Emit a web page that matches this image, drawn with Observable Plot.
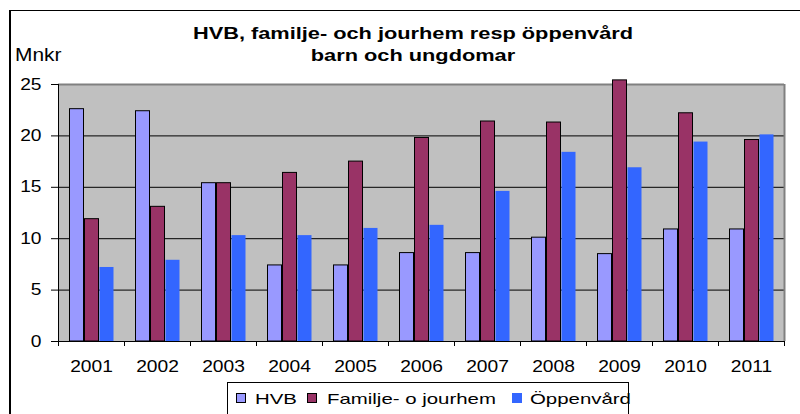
<!DOCTYPE html>
<html><head><meta charset="utf-8">
<script src="https://cdn.jsdelivr.net/npm/d3@7"></script>
<script src="https://cdn.jsdelivr.net/npm/@observablehq/plot@0.6"></script>
<style>
body{margin:0;background:#fff;font-family:"Liberation Sans",Arial,sans-serif;color:#000;}
#wrap{position:relative;width:800px;height:414px;overflow:hidden;background:#fff;}
#wrap svg{position:absolute;left:0;top:0;}
.border{position:absolute;left:9px;top:9.5px;width:830px;height:450px;border-left:2px solid #000;border-top:1.5px solid #000;}
.title{position:absolute;left:0;width:826px;text-align:center;font-weight:bold;font-size:16px;line-height:20px;white-space:nowrap;transform:scaleX(1.36);transform-origin:413px 0;}
.ylab{position:absolute;left:15px;top:44.5px;font-size:18px;line-height:20px;white-space:nowrap;transform:scaleX(1.16);transform-origin:0 0;}
.legend{position:absolute;left:227px;top:382px;width:402px;height:33px;box-sizing:border-box;border:1px solid #000;}
.sw{position:absolute;top:393px;width:10px;height:10px;box-sizing:border-box;}
.lt{position:absolute;top:390.6px;font-size:15px;line-height:15px;white-space:nowrap;transform:scaleX(1.36);transform-origin:0 0;}
</style></head>
<body>
<div id="wrap">
  <div class="border"></div>
  <div class="title" style="top:23.7px">HVB, familje- och jourhem resp öppenvård</div>
  <div class="title" style="top:46px">barn och ungdomar</div>
  <div class="ylab">Mnkr</div>
  <div class="legend"></div>
</div>
<script>
const years = ["2001","2002","2003","2004","2005","2006","2007","2008","2009","2010","2011"];
const seriesNames = ["HVB", "Familje- o jourhem", "Öppenvård"];
const hvb = [22.6, 22.4, 15.4, 7.4, 7.4, 8.6, 8.6, 10.1, 8.5, 10.9, 10.9];
const fam = [11.9, 13.1, 15.4, 16.4, 17.5, 19.8, 21.4, 21.3, 25.4, 22.2, 19.6];
const opp = [7.2, 7.9, 10.3, 10.3, 11.0, 11.3, 14.6, 18.4, 16.9, 19.4, 20.1];
const yTicks = [0, 5, 10, 15, 20, 25];

const colors = ["#9999FF", "#993366", "#3366FF"];
const outlined = [true, true, false];
const values = [hvb, fam, opp];
const rows = years.flatMap((year, i) => seriesNames.map((series, k) => ({year, series, k, value: values[k][i]})));
const xDomain = [-0.7, 3.7];

const chart = Plot.plot({
  width: 800, height: 414,
  marginLeft: 56, marginRight: 15, marginTop: 84, marginBottom: 73,
  style: {background: "transparent", fontSize: "16px", fontFamily: "'Liberation Sans', Arial, sans-serif", color: "#000", overflow: "visible"},
  fx: {domain: years, padding: 0},
  x: {domain: xDomain},
  y: {domain: [0, 25]},
  color: {domain: seriesNames, range: colors},
  marks: [
    Plot.frame({fill: "#c0c0c0", stroke: "none", shapeRendering: "crispEdges"}),
    Plot.gridY(yTicks.slice(1, -1), {stroke: "#000", strokeOpacity: 1, strokeWidth: 1}),
    Plot.ruleY([25], {stroke: "#808080", strokeWidth: 2}),
    Plot.rectY(rows, {filter: d => outlined[d.k], fx: "year", x: "k", interval: 1, y1: 0, y2: "value", fill: "series", stroke: "#000", strokeWidth: 1}),
    Plot.rectY(rows, {filter: d => !outlined[d.k], fx: "year", x: "k", interval: 1, y1: 0, y2: "value", fill: "series"}),
    Plot.ruleY([0], {stroke: "#000", strokeWidth: 1}),
    Plot.ruleX([years[0]], {fx: d => d, x: () => xDomain[0], y1: 0, y2: 25, stroke: "#000"}),
    Plot.ruleX([years[years.length - 1]], {fx: d => d, x: () => xDomain[1], y1: 0, y2: 25, stroke: "#808080", strokeWidth: 2}),
    Plot.axisY(yTicks, {tickSize: 7, tickPadding: 10, label: null}),
    Plot.axisFx({anchor: "bottom", tickSize: 0, tickPadding: 19, label: null}),
    Plot.axisX(xDomain, {tickSize: 5, tickFormat: () => "", label: null})
  ]
});

const wrap = document.getElementById("wrap");
wrap.insertBefore(chart, wrap.firstChild);

// horizontal stretch of the tick label text, as in the reference rendering
d3.select(chart).selectAll("text").each(function() {
  const x = +this.getAttribute("x") || 0, y = +this.getAttribute("y") || 0;
  const t = this.getAttribute("transform") || "";
  this.setAttribute("transform", `${t} translate(${x},${y}) scale(1.2,1) translate(${-x},${-y})`);
});

// legend
const swatchLeft = [236, 307, 512];
const textLeft = [255, 327, 530];
seriesNames.forEach((name, k) => {
  const sw = document.createElement("div");
  sw.className = "sw";
  sw.style.left = swatchLeft[k] + "px";
  sw.style.background = colors[k];
  if (outlined[k]) sw.style.border = "1px solid #000";
  wrap.appendChild(sw);
  const t = document.createElement("div");
  t.className = "lt";
  t.style.left = textLeft[k] + "px";
  t.textContent = name;
  wrap.appendChild(t);
});
</script>
</body></html>
